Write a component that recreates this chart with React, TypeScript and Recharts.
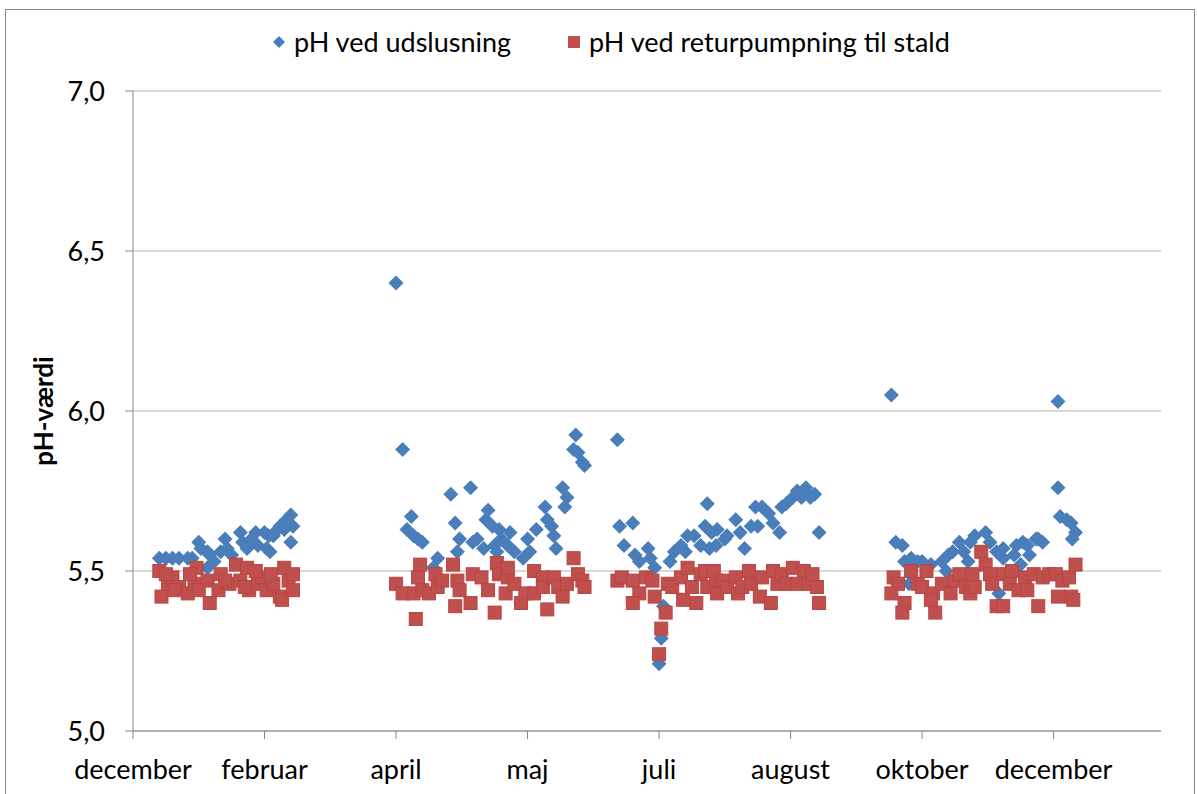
import { ScatterChart, Scatter, XAxis, YAxis, CartesianGrid } from 'recharts'

// x = days from the first tick, y = pH
const monthLabels = ['december', 'februar', 'april', 'maj', 'juli', 'august', 'oktober', 'december']
const monthTicks = [0, 60, 120, 180, 240, 300, 360, 420]
const yTicks = [5.0, 5.5, 6.0, 6.5, 7.0]

const udslusningWinter: [number, number][] = [
  [12, 5.54], [15, 5.54], [18, 5.54], [21, 5.54], [25, 5.54], [27, 5.54], [30, 5.59], [31, 5.57],
  [34, 5.56], [35, 5.55], [34, 5.51], [37, 5.53], [40, 5.56], [42, 5.6], [43, 5.57], [45, 5.55],
  [49, 5.62], [50, 5.59], [52, 5.57], [54, 5.6], [56, 5.62], [57, 5.58], [60, 5.62], [62, 5.61],
  [61, 5.57], [64, 5.61], [66, 5.63], [67, 5.64], [69, 5.63], [70, 5.66], [72, 5.675], [73, 5.64],
  [72, 5.59], [62.5, 5.56],
]
const udslusningSpring: [number, number][] = [
  [120, 6.4], [123, 5.88], [127, 5.67], [125, 5.63], [128, 5.61], [130, 5.6], [132, 5.59], [139, 5.54],
  [137, 5.51], [145, 5.74], [154, 5.76], [147, 5.65], [149, 5.6], [148, 5.56], [155, 5.59], [157, 5.6],
  [160, 5.57], [162, 5.69], [161, 5.66], [164, 5.64], [167, 5.63], [165, 5.58], [168, 5.6], [166, 5.56],
  [172, 5.62], [171, 5.58], [174, 5.56], [178, 5.54], [180, 5.6], [181, 5.56], [184, 5.63], [188, 5.7],
  [189, 5.66], [191, 5.64], [192, 5.61], [193, 5.57], [196, 5.76], [198, 5.73], [197, 5.7], [202, 5.925],
  [201, 5.88], [203, 5.87], [205, 5.84], [206, 5.83],
]
const udslusningSummer: [number, number][] = [
  [221, 5.91], [222, 5.64], [228, 5.65], [224, 5.58], [229, 5.55], [231, 5.53], [235, 5.57], [236, 5.54],
  [238, 5.51], [242, 5.39], [241, 5.29], [240, 5.21], [245, 5.53], [247, 5.56], [250, 5.58], [252, 5.56],
  [253, 5.61], [256, 5.61], [259, 5.58], [262, 5.71], [261, 5.64], [264, 5.62], [266, 5.58], [266.5, 5.63],
  [270, 5.6], [263, 5.57], [271, 5.61], [275, 5.66], [277, 5.62], [279, 5.57], [282, 5.64], [284, 5.7],
  [285, 5.64], [287, 5.7], [290, 5.68], [292, 5.65], [295, 5.62], [296, 5.7], [298, 5.71], [301, 5.73],
  [303, 5.75], [305, 5.73], [307, 5.76], [309, 5.73], [311, 5.74], [313, 5.62],
]
const udslusningAutumn: [number, number][] = [
  [346, 6.05], [348, 5.59], [351, 5.58], [352, 5.53], [355, 5.54], [358, 5.53], [360, 5.53], [354, 5.46],
  [364, 5.52], [369, 5.53], [372, 5.55], [374, 5.56], [371, 5.5], [377, 5.59], [379, 5.56], [382, 5.59],
  [381, 5.53], [384, 5.61], [389, 5.62], [391, 5.59], [394, 5.56], [397, 5.57], [397, 5.54], [402, 5.55],
  [403, 5.58], [405, 5.52], [406, 5.59], [408, 5.58], [409, 5.55], [412, 5.6], [413, 5.6], [415, 5.59],
  [395, 5.43], [422, 6.03], [422, 5.76], [423, 5.67], [426, 5.66], [428, 5.65], [430, 5.62], [428.5, 5.6],
]

const returWinter: [number, number][] = [
  [12, 5.5], [13, 5.42], [16, 5.46], [18, 5.48], [21, 5.45], [25, 5.43], [29, 5.51], [28, 5.46],
  [35, 5.4], [34, 5.47], [40, 5.49], [39, 5.44], [44, 5.46], [47, 5.52], [49, 5.47], [52, 5.51],
  [53, 5.44], [57, 5.46], [59, 5.48], [61, 5.44], [64, 5.46], [67, 5.42], [69, 5.51], [71, 5.47],
  [68, 5.41], [73, 5.44], [73, 5.49], [15, 5.49], [19, 5.44], [26, 5.49], [30, 5.44], [42, 5.47],
  [51, 5.45], [63, 5.49], [56, 5.5],
]
const returSpring: [number, number][] = [
  [120, 5.46], [123, 5.43], [128, 5.43], [129, 5.35], [131, 5.52], [130, 5.48], [132, 5.44], [135, 5.43],
  [138, 5.49], [139, 5.45], [141, 5.47], [146, 5.52], [148, 5.47], [149, 5.44], [147, 5.39], [154, 5.4],
  [155, 5.49], [159, 5.48], [162, 5.44], [165, 5.37], [166, 5.525], [167, 5.49], [170, 5.43], [171, 5.48],
  [171, 5.51], [174, 5.46], [177, 5.4], [179, 5.43], [183, 5.5], [183, 5.43], [187, 5.48], [187, 5.45],
  [189, 5.38], [192, 5.48], [194, 5.45], [196, 5.42], [198, 5.46], [201, 5.54], [203, 5.49], [205, 5.47],
  [206, 5.45],
]
const returSummer: [number, number][] = [
  [221, 5.47], [223, 5.48], [228, 5.47], [231, 5.43], [228, 5.4], [234, 5.48], [237, 5.47], [238, 5.42],
  [243, 5.37], [241, 5.32], [240, 5.24], [244, 5.46], [246, 5.45], [250, 5.48], [251, 5.41], [253, 5.51],
  [255, 5.45], [257, 5.4], [259, 5.49], [261, 5.5], [262, 5.45], [266, 5.47], [266.5, 5.43], [265, 5.5],
  [269, 5.47], [271, 5.45], [275, 5.48], [276, 5.43], [278, 5.45], [281, 5.5], [282, 5.46], [286, 5.42],
  [287, 5.48], [291, 5.4], [292, 5.5], [294, 5.46], [296, 5.49], [298, 5.46], [301, 5.51], [303, 5.46],
  [306, 5.5], [308, 5.46], [310, 5.49], [312, 5.45], [313, 5.4],
]
const returAutumn: [number, number][] = [
  [347, 5.48], [349, 5.46], [346, 5.43], [352, 5.4], [351, 5.37], [355, 5.5], [358, 5.46], [362, 5.5],
  [360, 5.45], [365, 5.43], [366, 5.37], [364, 5.41], [369, 5.46], [373, 5.43], [375, 5.47], [377, 5.49],
  [380, 5.45], [382, 5.43], [383, 5.49], [387, 5.56], [389, 5.52], [384, 5.45], [391, 5.49], [392, 5.46],
  [394, 5.39], [397, 5.39], [397, 5.49], [400, 5.46], [401, 5.5], [404, 5.44], [407, 5.48], [408, 5.44],
  [411, 5.49], [413, 5.39], [415, 5.48], [418, 5.49], [421, 5.49], [422, 5.42], [424, 5.47], [427, 5.48],
  [428, 5.42], [429, 5.41], [430, 5.52],
]

const toPoints = (rows: [number, number][]) => rows.map(([x, y]) => ({ x, y }))

const udslusning = toPoints([...udslusningWinter, ...udslusningSpring, ...udslusningSummer, ...udslusningAutumn])
const retur = toPoints([...returWinter, ...returSpring, ...returSummer, ...returAutumn])

const BLUE = '#4a7ebb'
const RED = '#c0504d'
const FONT = 'Lato, "Open Sans", sans-serif'

const Diamond = (props: any) => {
  const { cx, cy } = props
  if (cx == null || cy == null) return null
  const r = 7.5
  return <polygon points={`${cx},${cy - r} ${cx + r},${cy} ${cx},${cy + r} ${cx - r},${cy}`} fill={BLUE} />
}

const Square = (props: any) => {
  const { cx, cy } = props
  if (cx == null || cy == null) return null
  const s = 13
  return <rect x={cx - s / 2} y={cy - s / 2} width={s} height={s} fill={RED} stroke="#b84542" strokeWidth={1} />
}

const ChartLegend = () => (
  <div style={{ position: 'absolute', top: 24, left: 272, display: 'flex', alignItems: 'center', fontFamily: FONT, fontSize: 27, color: '#000', lineHeight: '36px' }}>
    <svg width={14} height={14}>
      <polygon points="7,1 13,7 7,13 1,7" fill={BLUE} />
    </svg>
    <span style={{ marginLeft: 8 }}>pH ved udslusning</span>
    <svg width={14} height={14} style={{ marginLeft: 56 }}>
      <rect x={1} y={1} width={12} height={12} fill={RED} />
    </svg>
    <span style={{ marginLeft: 8 }}>pH ved returpumpning til stald</span>
  </div>
)

const YLabel = (props: any) => {
  const vb = props.viewBox || {}
  const x = (vb.x ?? 0) + 43
  const y = (vb.y ?? 91) + (vb.height ?? 640) / 2
  return (
    <text x={x} y={y} transform={`rotate(-90, ${x}, ${y})`} textAnchor="middle" dominantBaseline="central"
      fontFamily={FONT} fontSize={26} fontWeight="bold" fill="#000">
      pH-værdi
    </text>
  )
}

export default function App() {
  return (
    <div style={{ position: 'absolute', left: 0, top: 0, width: 1197, height: 794, overflow: 'hidden', background: '#fff' }}>
      <div style={{ position: 'absolute', left: 5, top: 9, width: 1188, height: 800, border: '1.5px solid #8a8a8a' }} />
      <div style={{ position: 'absolute', left: 0, top: 0 }}>
        <ScatterChart width={1197} height={794} margin={{ top: 91, right: 36, bottom: 0, left: 0 }}>
          <CartesianGrid vertical={false} stroke="#b3b3b3" />
          <XAxis
            type="number"
            dataKey="x"
            domain={[0, 469]}
            ticks={monthTicks}
            tickFormatter={(v: number) => monthLabels[monthTicks.indexOf(v)] ?? ''}
            height={63}
            tickSize={8}
            tickMargin={21}
            stroke="#868686"
            tick={{ fill: '#000', fontSize: 27, fontFamily: FONT }}
            interval={0}
          />
          <YAxis
            type="number"
            dataKey="y"
            domain={[5, 7]}
            ticks={yTicks}
            tickFormatter={(v: number) => v.toFixed(1).replace('.', ',')}
            width={133}
            tickSize={8}
            tickMargin={20}
            stroke="#868686"
            tick={{ fill: '#000', fontSize: 27, fontFamily: FONT }}
            interval={0}
            label={<YLabel />}
          />
          <Scatter name="pH ved udslusning" data={udslusning} fill={BLUE} shape={<Diamond />} isAnimationActive={false} />
          <Scatter name="pH ved returpumpning til stald" data={retur} fill={RED} shape={<Square />} isAnimationActive={false} />
        </ScatterChart>
      </div>
      <ChartLegend />
    </div>
  )
}
